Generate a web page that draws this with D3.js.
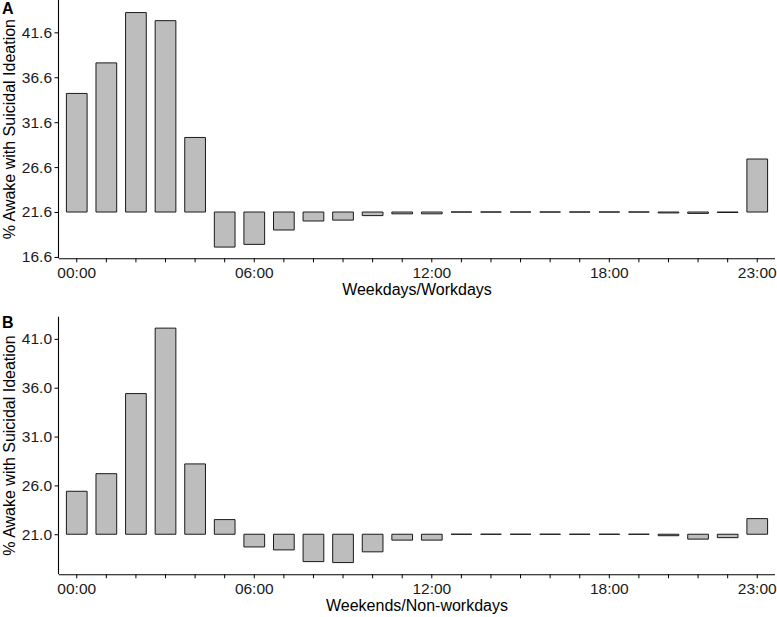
<!DOCTYPE html>
<html>
<head>
<meta charset="utf-8">
<script src="https://cdn.jsdelivr.net/npm/d3@7"></script>
<style>
  html, body { margin: 0; padding: 0; background: #fff; }
  svg { display: block; font-family: "Liberation Sans", Arial, sans-serif; }
</style>
</head>
<body>
<svg id="chart" width="777" height="617"></svg>
<script>
// ---- data ----
const hours = d3.range(24).map(h => String(h).padStart(2, "0") + ":00");
const labeledHours = ["00:00", "06:00", "12:00", "18:00", "23:00"];

const weekdayValues = [34.8, 38.2, 43.8, 42.9, 29.9, 17.7, 18.0, 19.6, 20.6, 20.7, 21.2, 21.4,
                       21.4, 21.6, 21.6, 21.6, 21.6, 21.6, 21.6, 21.6, 21.5, 21.45, 21.55, 27.5];
const weekdayBaseline = 21.6;
const weekdayTicks = [16.6, 21.6, 26.6, 31.6, 36.6, 41.6];

const weekendValues = [25.4, 27.2, 35.4, 42.1, 28.2, 22.5, 19.7, 19.4, 18.2, 18.1, 19.2, 20.4,
                       20.4, 21.0, 21.0, 21.0, 21.0, 21.0, 21.0, 21.0, 20.85, 20.5, 20.65, 22.6];
const weekendBaseline = 21.0;
const weekendTicks = [21.0, 26.0, 31.0, 36.0, 41.0];

const panels = [
  { tag: "A", values: weekdayValues, base: weekdayBaseline, ticks: weekdayTicks,
    title: "Weekdays/Workdays", domain: [16.45, 45.2], top: 0, bottom: 258.3, tagY: 13.5 },
  { tag: "B", values: weekendValues, base: weekendBaseline, ticks: weekendTicks,
    title: "Weekends/Non-workdays", domain: [16.9, 43.27], top: 316.7, bottom: 574.3, tagY: 328 }
];

// ---- drawing ----
const svg = d3.select("#chart");
const left = 59, right = 775;

const x = d3.scaleBand().domain(hours).range([left, right]).paddingInner(0.3).paddingOuter(0.25);

panels.forEach(p => {
  const g = svg.append("g");
  const y = d3.scaleLinear().domain(p.domain).range([p.bottom, p.top]);

  // bars (drawn as closed paths so zero-height bars still show their outline)
  g.selectAll("path.bar").data(p.values).join("path")
    .attr("class", "bar")
    .attr("d", (d, i) => {
      const x0 = x(hours[i]), x1 = x0 + x.bandwidth();
      const y0 = y(p.base), y1 = y(d);
      return `M${x0},${y0}H${x1}V${y1}H${x0}Z`;
    })
    .attr("fill", "#bdbdbd")
    .attr("stroke", "#1a1a1a")
    .attr("stroke-width", 1);

  // x axis
  const xa = g.append("g")
    .attr("transform", `translate(0,${p.bottom})`)
    .call(d3.axisBottom(x).tickSize(4).tickPadding(5)
      .tickFormat(h => labeledHours.includes(h) ? h : ""));
  // y axis
  const ya = g.append("g")
    .attr("transform", `translate(${left},0)`)
    .call(d3.axisLeft(y).tickValues(p.ticks).tickSize(4.5).tickPadding(2.5)
      .tickFormat(d3.format(".1f")));

  [xa, ya].forEach(a => {
    a.select(".domain").attr("stroke", "#000").attr("stroke-width", 1.1);
    a.selectAll(".tick line").attr("stroke", "#000").attr("stroke-width", 1);
    a.selectAll(".tick text").attr("fill", "#1a1a1a").style("font-size", "15.5px")
      .style("font-family", "'Liberation Sans', Arial, sans-serif");
  });
  xa.select(".domain").attr("d", `M${left},0.5H${right}`);
  ya.select(".domain").attr("d", `M-0.5,${p.bottom}V${p.top}`);

  // x axis title
  g.append("text")
    .attr("x", (left + right) / 2)
    .attr("y", p.bottom + 36.7)
    .attr("text-anchor", "middle")
    .style("font-size", "16px")
    .attr("fill", "#000")
    .text(p.title);

  // y axis title
  g.append("text")
    .attr("transform", `translate(15,${(p.top + p.bottom) / 2}) rotate(-90)`)
    .attr("text-anchor", "middle")
    .style("font-size", "16px")
    .attr("fill", "#000")
    .text("% Awake with Suicidal Ideation");

  // panel tag
  g.append("text")
    .attr("x", 2)
    .attr("y", p.tagY)
    .style("font-size", "16px")
    .style("font-weight", "bold")
    .attr("fill", "#000")
    .text(p.tag);
});
</script>
</body>
</html>
